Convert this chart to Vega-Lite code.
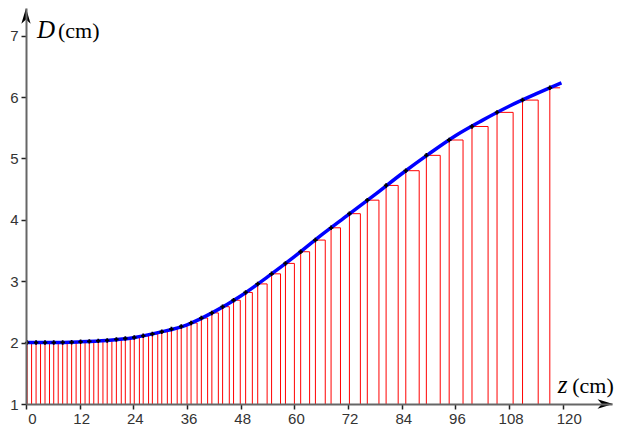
{
  "$schema": "https://vega.github.io/schema/vega-lite/v6.json",
  "width": 586,
  "height": 396,
  "autosize": "none",
  "padding": {"left": 26, "top": 8, "right": 7, "bottom": 22},
  "background": "white",
  "config": {"view": {"stroke": null}},
  "datasets": {
    "slices": [
      {"left": 0.25, "right": 1.25, "D": 2.0},
      {"left": 2.25, "right": 3.25, "D": 2.0},
      {"left": 4.25, "right": 5.25, "D": 2.0},
      {"left": 6.2, "right": 7.2, "D": 2.0},
      {"left": 8.2, "right": 9.2, "D": 2.003},
      {"left": 10.2, "right": 11.2, "D": 2.006},
      {"left": 12.2, "right": 13.2, "D": 2.013},
      {"left": 14.15, "right": 15.15, "D": 2.02},
      {"left": 16.15, "right": 17.2, "D": 2.028},
      {"left": 18.15, "right": 19.2, "D": 2.036},
      {"left": 20.2, "right": 21.3, "D": 2.051},
      {"left": 22.2, "right": 23.3, "D": 2.067},
      {"left": 24.2, "right": 25.35, "D": 2.083},
      {"left": 26.2, "right": 27.4, "D": 2.11},
      {"left": 28.25, "right": 29.45, "D": 2.14},
      {"left": 30.35, "right": 31.6, "D": 2.177},
      {"left": 32.5, "right": 33.8, "D": 2.22},
      {"left": 34.7, "right": 36.0, "D": 2.264},
      {"left": 36.9, "right": 38.25, "D": 2.32},
      {"left": 39.2, "right": 40.6, "D": 2.4},
      {"left": 41.55, "right": 43.0, "D": 2.484},
      {"left": 43.95, "right": 45.45, "D": 2.585},
      {"left": 46.4, "right": 47.9, "D": 2.69},
      {"left": 49.1, "right": 50.6, "D": 2.817},
      {"left": 51.8, "right": 53.9, "D": 2.956},
      {"left": 54.9, "right": 56.9, "D": 3.12},
      {"left": 58.0, "right": 60.0, "D": 3.29},
      {"left": 61.4, "right": 63.4, "D": 3.48},
      {"left": 64.7, "right": 66.9, "D": 3.67},
      {"left": 68.2, "right": 70.3, "D": 3.87},
      {"left": 72.3, "right": 74.75, "D": 4.1},
      {"left": 76.3, "right": 78.9, "D": 4.32},
      {"left": 80.5, "right": 83.2, "D": 4.56},
      {"left": 84.9, "right": 87.9, "D": 4.8},
      {"left": 89.5, "right": 92.6, "D": 5.05},
      {"left": 94.6, "right": 97.7, "D": 5.3},
      {"left": 99.7, "right": 103.3, "D": 5.52},
      {"left": 105.3, "right": 108.9, "D": 5.75},
      {"left": 111.0, "right": 114.5, "D": 5.95},
      {"left": 117.1, "right": 119.4, "D": 6.15}
    ],
    "curve": [
      {"z": 0, "D": 2.0},
      {"z": 6, "D": 2.0},
      {"z": 12, "D": 2.012},
      {"z": 18, "D": 2.035},
      {"z": 24, "D": 2.08},
      {"z": 30, "D": 2.17},
      {"z": 36, "D": 2.29},
      {"z": 42, "D": 2.5},
      {"z": 48, "D": 2.76},
      {"z": 54, "D": 3.07},
      {"z": 60, "D": 3.4},
      {"z": 66, "D": 3.75},
      {"z": 72, "D": 4.08},
      {"z": 78, "D": 4.41},
      {"z": 84, "D": 4.75},
      {"z": 90, "D": 5.07},
      {"z": 96, "D": 5.37},
      {"z": 102, "D": 5.62},
      {"z": 108, "D": 5.85},
      {"z": 114, "D": 6.05},
      {"z": 119.7, "D": 6.23}
    ]
  },
  "layer": [
    {
      "data": {"name": "slices"},
      "mark": {"type": "rule", "color": "#ff0000", "strokeWidth": 1},
      "encoding": {
        "x": {
          "field": "left", "type": "quantitative",
          "scale": {"domain": [0, 131], "nice": false, "zero": false},
          "axis": {
            "values": [0, 12, 24, 36, 48, 60, 72, 84, 96, 108, 120],
            "title": null, "grid": false, "zindex": 1, "format": "d",
            "domainColor": "#666666", "domainWidth": 2,
            "tickColor": "#222222", "tickWidth": 1.5, "tickSize": 5,
            "labelFont": "Liberation Sans", "labelFontSize": 15, "labelColor": "#333333",
            "labelPadding": 2, "labelFlush": false, "labelOverlap": false,
            "labelOffset": {"condition": {"test": "datum.value == 0 || datum.value == 120", "value": 6}, "value": 1.5}
          }
        },
        "y": {
          "field": "D", "type": "quantitative",
          "scale": {"domain": [1, 7.45], "nice": false, "zero": false},
          "axis": {
            "values": [1, 2, 3, 4, 5, 6, 7],
            "title": null, "grid": false, "zindex": 1, "format": "d",
            "domainColor": "#666666", "domainWidth": 2,
            "tickColor": "#222222", "tickWidth": 1.5, "tickSize": 5,
            "labelFont": "Liberation Sans", "labelFontSize": 15, "labelColor": "#333333",
            "labelPadding": 3, "labelFlush": false, "labelOverlap": false
          }
        },
        "y2": {"datum": 1}
      }
    },
    {
      "data": {"name": "slices"},
      "transform": [{"filter": "datum.left < 117"}],
      "mark": {"type": "rule", "color": "#ff0000", "strokeWidth": 1},
      "encoding": {
        "x": {"field": "right", "type": "quantitative"},
        "y": {"field": "D", "type": "quantitative"},
        "y2": {"datum": 1}
      }
    },
    {
      "data": {"name": "slices"},
      "mark": {"type": "rule", "color": "#ff0000", "strokeWidth": 1},
      "encoding": {
        "x": {"field": "left", "type": "quantitative"},
        "x2": {"field": "right"},
        "y": {"field": "D", "type": "quantitative"}
      }
    },
    {
      "data": {"name": "curve"},
      "mark": {"type": "line", "color": "#0000ff", "strokeWidth": 3.5, "interpolate": "monotone"},
      "encoding": {
        "x": {"field": "z", "type": "quantitative"},
        "y": {"field": "D", "type": "quantitative"}
      }
    },
    {
      "data": {"name": "slices"},
      "mark": {"type": "point", "shape": "cross", "filled": true, "color": "#000000", "size": 20, "opacity": 1},
      "encoding": {
        "x": {"field": "left", "type": "quantitative"},
        "y": {"field": "D", "type": "quantitative"}
      }
    },
    {
      "data": {"values": [{}]},
      "mark": {"type": "point", "shape": "M1,0 L-1,-0.6 L-0.45,0 L-1,0.6 Z", "filled": true, "color": "#000000", "size": 240, "opacity": 1},
      "encoding": {
        "x": {"datum": 129.5, "type": "quantitative"},
        "y": {"datum": 1, "type": "quantitative"}
      }
    },
    {
      "data": {"values": [{}]},
      "mark": {"type": "point", "shape": "M0,-1 L-0.6,1 L0,0.45 L0.6,1 Z", "filled": true, "color": "#000000", "size": 240, "opacity": 1},
      "encoding": {
        "x": {"datum": 0, "type": "quantitative"},
        "y": {"datum": 7.32, "type": "quantitative"}
      }
    },
    {
      "data": {"values": [{}]},
      "mark": {"type": "text", "text": "D", "font": "Liberation Serif", "fontStyle": "italic", "fontSize": 25, "align": "left", "baseline": "alphabetic", "color": "#000000"},
      "encoding": {
        "x": {"datum": 2.46, "type": "quantitative"},
        "y": {"datum": 6.96, "type": "quantitative"}
      }
    },
    {
      "data": {"values": [{}]},
      "mark": {"type": "text", "text": "(cm)", "font": "Liberation Serif", "fontSize": 22, "align": "left", "baseline": "alphabetic", "color": "#000000"},
      "encoding": {
        "x": {"datum": 7.15, "type": "quantitative"},
        "y": {"datum": 6.96, "type": "quantitative"}
      }
    },
    {
      "data": {"values": [{}]},
      "mark": {"type": "text", "text": "z", "font": "Liberation Serif", "fontStyle": "italic", "fontSize": 25, "align": "left", "baseline": "alphabetic", "color": "#000000"},
      "encoding": {
        "x": {"datum": 118.9, "type": "quantitative"},
        "y": {"datum": 1.18, "type": "quantitative"}
      }
    },
    {
      "data": {"values": [{}]},
      "mark": {"type": "text", "text": "(cm)", "font": "Liberation Serif", "fontSize": 22, "align": "left", "baseline": "alphabetic", "color": "#000000"},
      "encoding": {
        "x": {"datum": 122.1, "type": "quantitative"},
        "y": {"datum": 1.18, "type": "quantitative"}
      }
    }
  ]
}
